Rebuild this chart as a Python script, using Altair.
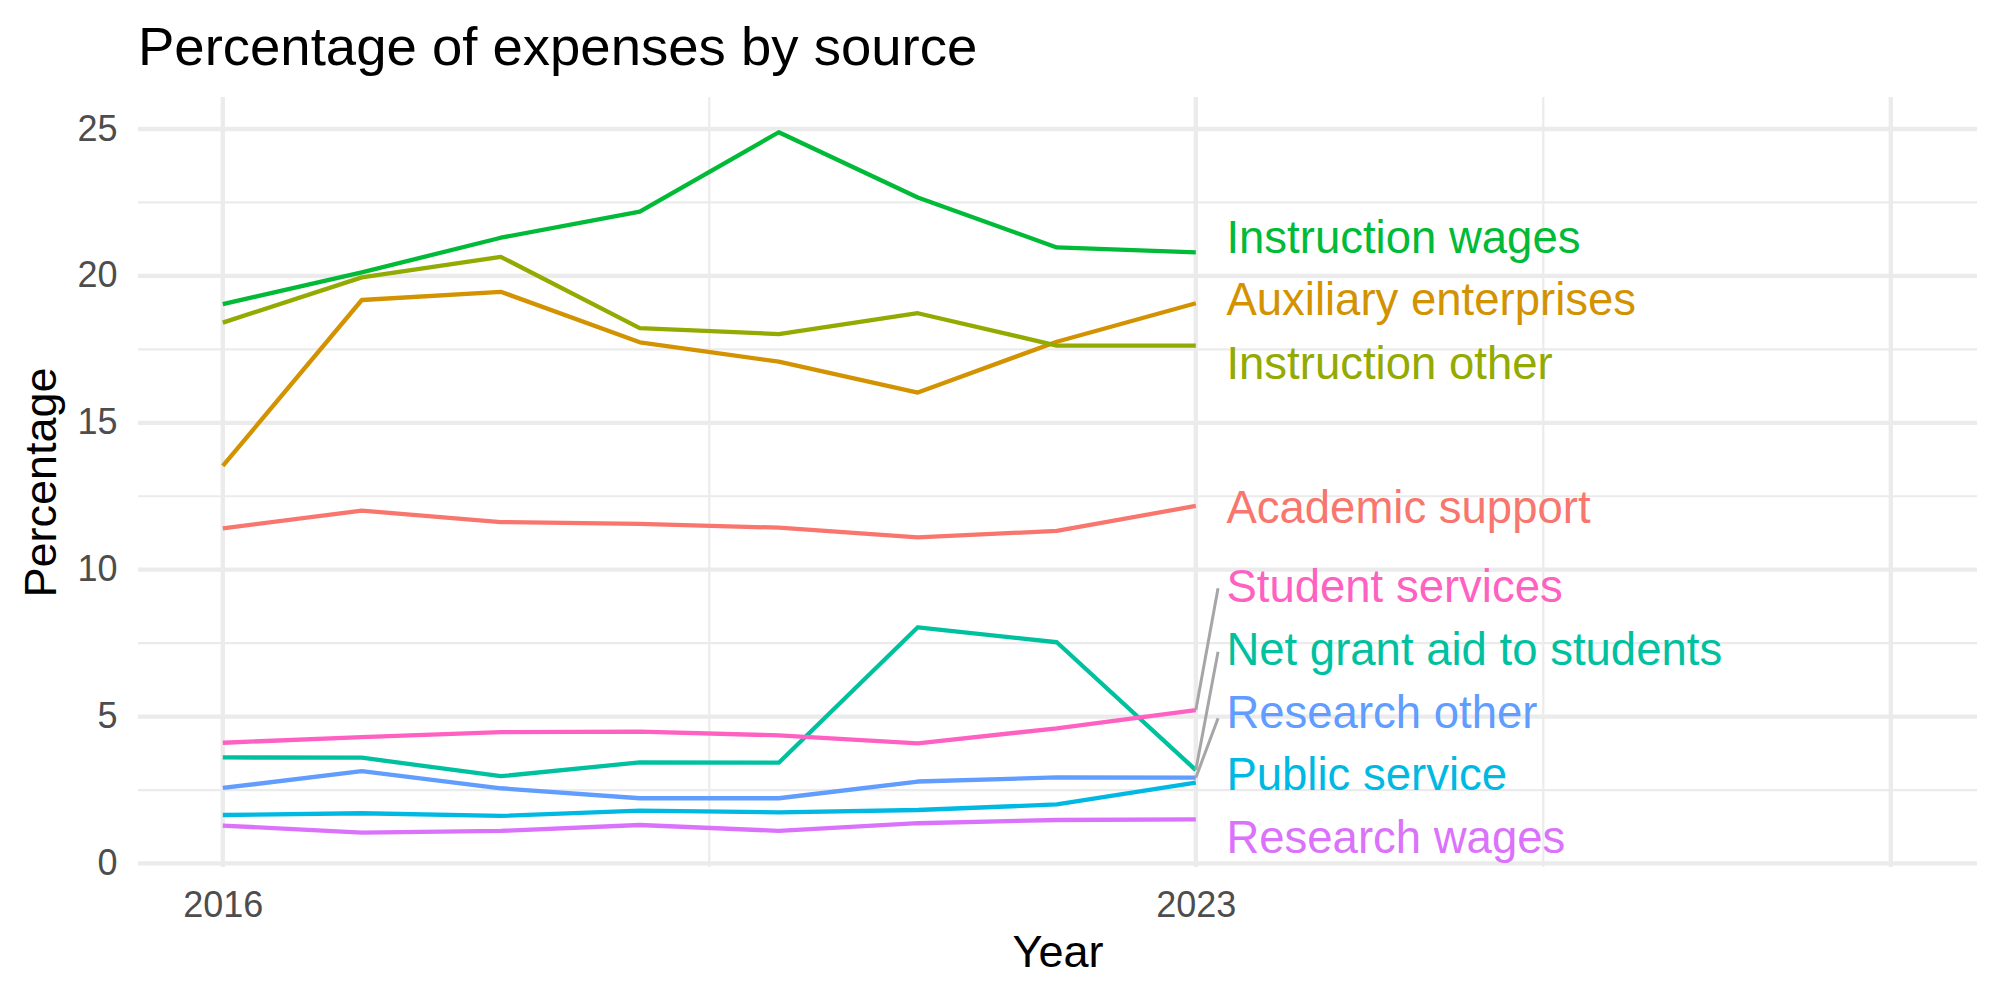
import altair as alt
import pandas as pd

# ---------------- data ----------------
years = [2016, 2017, 2018, 2019, 2020, 2021, 2022, 2023]

series_names = [
    "Academic support", "Auxiliary enterprises", "Instruction other",
    "Instruction wages", "Net grant aid to students", "Public service",
    "Research other", "Research wages", "Student services",
]
series_colors = ["#F8766D", "#D39200", "#93AA00", "#00BA38", "#00C19F",
                 "#00B9E3", "#619CFF", "#DB72FB", "#FF61C3"]

academic_support = [11.41, 12.01, 11.62, 11.56, 11.43, 11.10, 11.32, 12.17]
auxiliary_enterprises = [13.53, 19.18, 19.46, 17.74, 17.08, 16.03, 17.76, 19.07]
instruction_other = [18.41, 19.95, 20.65, 18.22, 18.02, 18.73, 17.63, 17.63]
instruction_wages = [19.04, 20.12, 21.30, 22.19, 24.89, 22.67, 20.97, 20.80]
net_grant_aid = [3.61, 3.60, 2.97, 3.44, 3.43, 8.04, 7.53, 3.18]
public_service = [1.65, 1.71, 1.62, 1.80, 1.74, 1.82, 2.01, 2.75]
research_other = [2.57, 3.14, 2.56, 2.22, 2.22, 2.79, 2.93, 2.92]
research_wages = [1.29, 1.05, 1.11, 1.31, 1.11, 1.37, 1.48, 1.50]
student_services = [4.11, 4.30, 4.47, 4.49, 4.36, 4.09, 4.60, 5.22]

series_values = [academic_support, auxiliary_enterprises, instruction_other,
                 instruction_wages, net_grant_aid, public_service,
                 research_other, research_wages, student_services]

# repelled label positions (as placed in the reference)
label_year = 2023.22
label_values = [12.05, 19.13, 16.98, 21.27, 7.23, 2.97, 5.10, 0.85, 9.36]

# connector segments for the crowded labels
segment_series = ["Student services", "Net grant aid to students", "Research other"]
segment_end_year = 2023.16
segment_end_values = [9.37, 7.21, 4.94]

# axis breaks
x_label_breaks = [2016, 2023]
x_major_grid = [2016, 2023, 2028]
x_minor_grid = [2019.5, 2025.5]
y_major_grid = [0, 5, 10, 15, 20, 25]
y_minor_grid = [2.5, 7.5, 12.5, 17.5, 22.5]

x_domain = [2015.39, 2028.62]
y_domain = [-0.12, 26.09]

# ---------------- tables ----------------
rows = []
for name, vals in zip(series_names, series_values):
    for yr, v in zip(years, vals):
        rows.append({"year": yr, "value": v, "series": name})
lines_df = pd.DataFrame(rows)

labels_df = pd.DataFrame({"series": series_names,
                          "year": [label_year] * len(series_names),
                          "value": label_values})

last_vals = {n: v[-1] for n, v in zip(series_names, series_values)}
seg_df = pd.DataFrame({
    "series": segment_series,
    "year": [years[-1]] * len(segment_series),
    "value": [last_vals[s] for s in segment_series],
    "year2": [segment_end_year] * len(segment_series),
    "value2": segment_end_values,
})

FONT = "Liberation Sans"
GRID = "#EBEBEB"
MAJOR_W = 4.3
MINOR_W = 2.2

xscale = alt.Scale(domain=x_domain, nice=False, zero=False)
yscale = alt.Scale(domain=y_domain, nice=False, zero=False)
cscale = alt.Scale(domain=series_names, range=series_colors)

x_axis = alt.Axis(values=x_label_breaks, format="d", grid=False, ticks=False,
                  domain=False, labelFontSize=36, labelColor="#4D4D4D",
                  labelFont=FONT, labelPadding=21.5, labelFlush=False,
                  title="Year", titleFont=FONT, titleFontSize=45,
                  titleFontWeight="normal", titleColor="black",
                  titleY=99, titleBaseline="alphabetic")
y_axis = alt.Axis(values=y_major_grid, grid=False, ticks=False, domain=False,
                  labelFontSize=36, labelColor="#4D4D4D", labelFont=FONT,
                  labelPadding=21, labelFlush=False,
                  title="Percentage", titleFont=FONT, titleFontSize=45,
                  titleFontWeight="normal", titleColor="black",
                  titleAngle=270, titleX=-83, titleY=385,
                  titleBaseline="alphabetic", titleAlign="center")


def X(field):
    return alt.X(field, scale=xscale, axis=x_axis)


def Y(field):
    return alt.Y(field, scale=yscale, axis=y_axis)


ymin_grid = alt.Chart(pd.DataFrame({"year": [2016] * len(y_minor_grid), "value": y_minor_grid})).mark_rule(
    color=GRID, strokeWidth=MINOR_W).encode(y=Y("value:Q"))
ymaj_grid = alt.Chart(pd.DataFrame({"year": [2016] * len(y_major_grid), "value": y_major_grid})).mark_rule(
    color=GRID, strokeWidth=MAJOR_W).encode(y=Y("value:Q"))
xmin_grid = alt.Chart(pd.DataFrame({"year": x_minor_grid})).mark_rule(
    color=GRID, strokeWidth=MINOR_W).encode(x=X("year:Q"))
xmaj_grid = alt.Chart(pd.DataFrame({"year": x_major_grid})).mark_rule(
    color=GRID, strokeWidth=MAJOR_W).encode(x=X("year:Q"))

lines = alt.Chart(lines_df).mark_line(strokeWidth=4.3, strokeJoin="round").encode(
    x=X("year:Q"),
    y=Y("value:Q"),
    color=alt.Color("series:N", scale=cscale, legend=None),
    detail="series:N",
)

segments = alt.Chart(seg_df).mark_rule(color="#A6A6A6", strokeWidth=3).encode(
    x=X("year:Q"),
    x2="year2:Q",
    y=Y("value:Q"),
    y2="value2:Q",
)

labels = alt.Chart(labels_df).mark_text(
    align="left", baseline="middle", fontSize=45.5, font=FONT).encode(
    x=X("year:Q"),
    y=Y("value:Q"),
    text="series:N",
    color=alt.Color("series:N", scale=cscale, legend=None),
)

chart = alt.layer(
    ymin_grid, ymaj_grid, xmin_grid, xmaj_grid, lines, segments, labels
).properties(
    width=1839, height=770,
    title=alt.TitleParams("Percentage of expenses by source", anchor="start",
                          frame="group", fontSize=54.5, font=FONT,
                          fontWeight="normal", color="black", offset=18),
    autosize=alt.AutoSizeParams(type="none"),
    padding={"left": 138, "top": 97, "right": 23, "bottom": 133},
    background="white",
).configure_view(stroke=None)

chart.save("out.html", embed_options={"renderer": "svg", "actions": False})
